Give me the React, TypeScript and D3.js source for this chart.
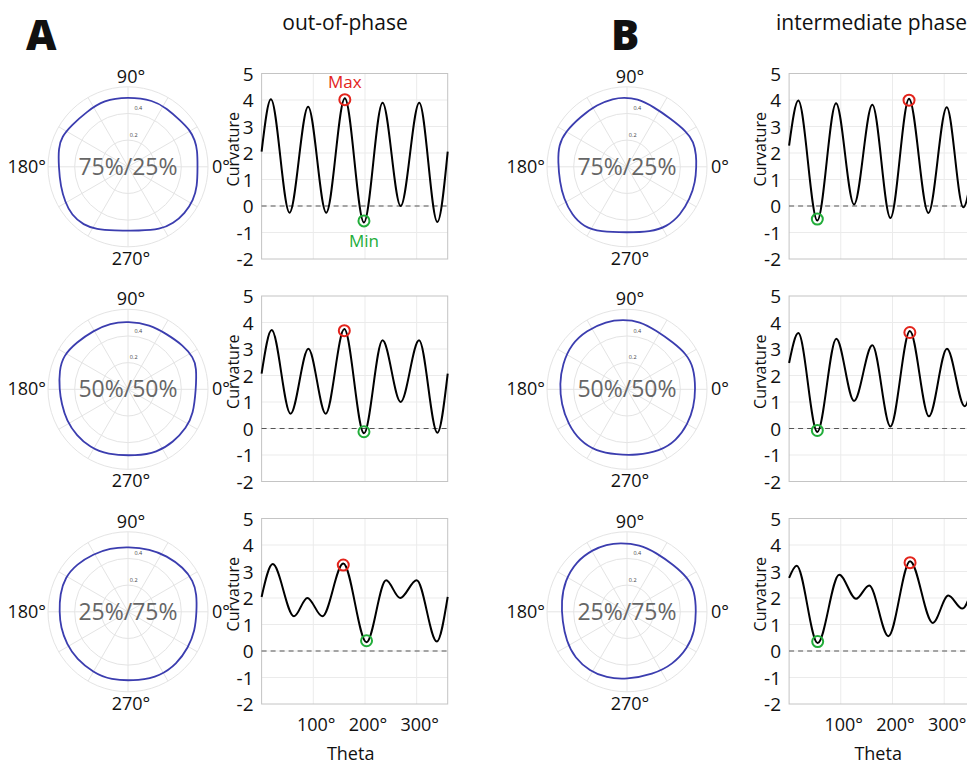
import React, { useEffect, useRef } from "react";
import * as d3 from "d3";

const WIDTH = 967;
const HEIGHT = 765;

const panelLetters = ["A", "B"];
const panelTitles = ["out-of-phase", "intermediate phase"];
const ratioLabels = ["75%/25%", "50%/50%", "25%/75%"];
const radialTicks = [0.2, 0.4];
const ringValues = [0.2, 0.4, 0.6];
const spokeAngles = [0, 30, 60, 90, 120, 150, 180, 210, 240, 270, 300, 330];
const curvTicks = [-2, -1, 0, 1, 2, 3, 4, 5];
const thetaTicks = [100, 200, 300];

// polar contours: [angle in degrees, radius]
const polarA1 = [[0, 0.522], [13.5, 0.535], [21.7, 0.54], [30.6, 0.54], [41.9, 0.524], [56.5, 0.525], [69, 0.535], [90, 0.525], [110, 0.533], [127, 0.516], [143.5, 0.526], [155.7, 0.546], [165, 0.54], [180, 0.52], [196.5, 0.527], [209, 0.54], [220.6, 0.557], [232.6, 0.55], [243.4, 0.525], [257, 0.49], [280.6, 0.488], [297, 0.528], [308.7, 0.544], [320.7, 0.552], [333, 0.55], [344, 0.54]];
const polarA2 = [[0, 0.51], [17.8, 0.54], [26, 0.545], [38.3, 0.53], [55, 0.506], [71.2, 0.512], [90, 0.51], [105, 0.513], [120.6, 0.511], [137.5, 0.522], [152.5, 0.547], [164.8, 0.534], [180, 0.515], [192.5, 0.51], [207, 0.517], [222, 0.519], [236.8, 0.52], [251.9, 0.515], [277.4, 0.504], [294.5, 0.52], [310.5, 0.523], [327, 0.524], [339, 0.524]];
const polarA3 = [[0, 0.515], [14.4, 0.532], [25.4, 0.542], [38.7, 0.532], [55.4, 0.51], [70.6, 0.499], [90, 0.488], [105.8, 0.496], [121, 0.505], [137, 0.525], [151.4, 0.538], [165.4, 0.527], [180, 0.515], [193, 0.518], [207.8, 0.52], [222.7, 0.524], [240.3, 0.524], [255, 0.53], [279.9, 0.525], [296.6, 0.537], [312.9, 0.536], [329.4, 0.526], [344, 0.522]];
const polarB1 = [[0, 0.52], [9.6, 0.527], [20.6, 0.534], [30.3, 0.52], [48, 0.487], [66, 0.4925], [81.7, 0.518], [92.8, 0.52], [101, 0.522], [115.7, 0.519], [133, 0.513], [150.4, 0.532], [162.4, 0.538], [175.9, 0.519], [192.6, 0.517], [206.6, 0.531], [221.3, 0.549], [234.2, 0.555], [247.7, 0.527], [270, 0.4925], [289.7, 0.518], [303.7, 0.54], [317.8, 0.54], [333.4, 0.53], [347.6, 0.525]];
const polarB2 = [[0, 0.515], [18.3, 0.527], [30.8, 0.518], [45.6, 0.493], [63.4, 0.492], [79.4, 0.519], [93.3, 0.523], [106.9, 0.533], [124.7, 0.535], [140.8, 0.538], [158.6, 0.52], [175.5, 0.507], [192.6, 0.505], [210.4, 0.513], [227.3, 0.524], [243.7, 0.519], [260.7, 0.4965], [278, 0.5], [297.8, 0.525], [313.9, 0.534], [330.4, 0.526], [345, 0.518]];
const polarB3 = [[0.5, 0.52], [17, 0.53], [29, 0.524], [45.8, 0.495], [63.6, 0.494], [79.3, 0.514], [96, 0.52], [107, 0.528], [118.6, 0.532], [135, 0.537], [153.8, 0.521], [170.8, 0.499], [188.2, 0.49], [205.8, 0.505], [221.3, 0.5225], [237.8, 0.525], [252.6, 0.519], [269.4, 0.5075], [292.5, 0.509], [311, 0.524], [329.4, 0.531], [344, 0.528]];

// curvature extrema: [theta in degrees, curvature]
const curvA1 = [[0, 2.05], [18, 4.03], [54, -0.25], [90, 3.75], [125, -0.25], [161, 4.07], [198, -0.62], [234, 3.9], [269, 0.0], [305, 3.9], [340, -0.6], [360, 2.05]];
const curvA2 = [[0, 2.07], [19.5, 3.72], [56, 0.56], [90.5, 3.01], [124, 0.56], [160, 3.75], [198, -0.18], [234, 3.33], [269, 1.0], [304.6, 3.33], [340, -0.16], [360, 2.07]];
const curvA3 = [[0, 2.04], [21.5, 3.28], [62.7, 1.31], [88.5, 2.0], [117.5, 1.31], [158, 3.3], [203, 0.33], [240.8, 2.67], [268, 2.0], [300, 2.67], [339, 0.36], [360, 2.04]];
const curvB1 = [[0, 2.28], [17.8, 3.98], [54.6, -0.55], [90.8, 3.88], [125.6, 0.06], [161, 3.82], [196, -0.45], [232, 4.05], [269.5, -0.26], [305, 3.73], [337, -0.05], [360, 2.28]];
const curvB2 = [[0, 2.47], [17.8, 3.6], [54.6, -0.13], [91.4, 3.39], [125.6, 1.04], [161, 3.14], [196, 0.08], [233.6, 3.68], [270.6, 0.46], [305.4, 3.01], [339.6, 0.84], [360, 2.47]];
const curvB3 = [[0, 2.76], [14.6, 3.22], [55.3, 0.3], [97, 2.88], [129.5, 1.97], [155, 2.47], [192, 0.56], [234, 3.39], [278, 1.06], [308, 2.09], [335, 1.6], [360, 2.76]];

const polarData = [[polarA1, polarA2, polarA3], [polarB1, polarB2, polarB3]];
const curvData = [[curvA1, curvA2, curvA3], [curvB1, curvB2, curvB3]];

const FONT = "'Open Sans', 'Noto Sans', sans-serif";
const POLAR_CX = [128, 627];
const CURVE_X0 = [261.6, 789.1];
const CURVE_W = 186.1;
const ROW_TOP = [73.5, 296, 518.5];
const CURVE_H = 185.5;
const POLAR_R = 80;
const BLUE = "#3b3daf";
const RED = "#e3241c";
const GREEN = "#22ad3a";

export default function App() {
  const ref = useRef(null);

  useEffect(() => {
    const svg = d3.select(ref.current);
    svg.selectAll("*").remove();
    svg.attr("font-family", FONT);

    const rScale = d3.scaleLinear().domain([0, 0.6]).range([0, POLAR_R]);
    const rad = (deg) => (deg * Math.PI) / 180;

    panelLetters.forEach((letter, p) => {
      svg.append("text")
        .text(letter)
        .attr("x", p === 0 ? 26 : 611)
        .attr("y", 50)
        .attr("font-weight", 800)
        .attr("font-size", 42)
        .attr("fill", "#111");

      svg.append("text")
        .text(panelTitles[p])
        .attr("x", p === 0 ? 345 : 776)
        .attr("y", 30)
        .attr("text-anchor", p === 0 ? "middle" : "start")
        .attr("font-size", 21)
        .attr("fill", "#111");

      for (let row = 0; row < 3; row++) {
        const cx = POLAR_CX[p];
        const cy = ROW_TOP[row] + 93.3;
        const g = svg.append("g").attr("transform", "translate(" + cx + "," + cy + ")");

        g.selectAll("circle.ring")
          .data(ringValues)
          .enter()
          .append("circle")
          .attr("r", d => rScale(d))
          .attr("fill", "none")
          .attr("stroke", "#e4e4e4")
          .attr("stroke-width", 1);

        g.selectAll("line.spoke")
          .data(spokeAngles)
          .enter()
          .append("line")
          .attr("x2", d => POLAR_R * Math.cos(rad(d)))
          .attr("y2", d => -POLAR_R * Math.sin(rad(d)))
          .attr("stroke", "#e4e4e4")
          .attr("stroke-width", 1);

        g.selectAll("text.rtick")
          .data(radialTicks)
          .enter()
          .append("text")
          .text(d => d)
          .attr("x", d => (rScale(d) + 6) * Math.cos(rad(80)))
          .attr("y", d => -(rScale(d) + 6) * Math.sin(rad(80)) + 2)
          .attr("text-anchor", "middle")
          .attr("font-size", 5.5)
          .attr("fill", "#444");

        g.append("text")
          .text(ratioLabels[row])
          .attr("x", 0)
          .attr("y", 8)
          .attr("text-anchor", "middle")
          .attr("font-size", 23)
          .attr("fill", "#666");

        const radial = d3.lineRadial()
          .angle(d => rad(90 - d[0]))
          .radius(d => rScale(d[1]))
          .curve(d3.curveBasisClosed);

        g.append("path")
          .attr("d", radial(polarData[p][row]))
          .attr("fill", "none")
          .attr("stroke", BLUE)
          .attr("stroke-width", 1.8);

        const lab = (t, x, y, anchor) => g.append("text")
          .text(t)
          .attr("x", x)
          .attr("y", y)
          .attr("text-anchor", anchor)
          .attr("font-size", 18)
          .attr("fill", "#111");
        lab("90°", 3, -84, "middle");
        lab("270°", 3, 98, "middle");
        lab("180°", -82, 6, "end");
        lab("0°", 84, 6, "start");

        // curvature plot
        const x0 = CURVE_X0[p];
        const top = ROW_TOP[row];
        const x = d3.scaleLinear().domain([0, 360]).range([x0, x0 + CURVE_W]);
        const y = d3.scaleLinear().domain([-2, 5]).range([top + CURVE_H, top]);
        const c = svg.append("g");

        c.selectAll("line.vgrid")
          .data(thetaTicks)
          .enter()
          .append("line")
          .attr("x1", d => x(d))
          .attr("x2", d => x(d))
          .attr("y1", top)
          .attr("y2", top + CURVE_H)
          .attr("stroke", "#ebebeb");

        c.selectAll("line.hgrid")
          .data(curvTicks.slice(1, -1))
          .enter()
          .append("line")
          .attr("x1", x0)
          .attr("x2", x0 + CURVE_W)
          .attr("y1", d => y(d))
          .attr("y2", d => y(d))
          .attr("stroke", "#ebebeb");

        c.append("rect")
          .attr("x", x0)
          .attr("y", top)
          .attr("width", CURVE_W)
          .attr("height", CURVE_H)
          .attr("fill", "none")
          .attr("stroke", "#c4c4c4");

        c.append("line")
          .attr("x1", x0)
          .attr("x2", x0 + CURVE_W)
          .attr("y1", y(0))
          .attr("y2", y(0))
          .attr("stroke", "#555")
          .attr("stroke-width", 1.2)
          .attr("stroke-dasharray", "5,4");

        c.selectAll("text.ytick")
          .data(curvTicks)
          .enter()
          .append("text")
          .text(d => String(d))
          .attr("x", x0 - 8)
          .attr("y", d => y(d) + 7)
          .attr("text-anchor", "end")
          .attr("font-size", 19)
          .attr("fill", "#111");

        c.append("text")
          .text("Curvature")
          .attr("transform", "translate(" + (x0 - 23) + "," + (top + CURVE_H / 2 - 17) + ") rotate(-90)")
          .attr("text-anchor", "middle")
          .attr("font-size", 16)
          .attr("fill", "#111");

        const series = curvData[p][row];
        const line = d3.line()
          .x(d => x(d[0]))
          .y(d => y(d[1]))
          .curve(d3.curveMonotoneX);

        c.append("path")
          .attr("d", line(series))
          .attr("fill", "none")
          .attr("stroke", "#000")
          .attr("stroke-width", 2);

        const maxPt = series[d3.maxIndex(series, d => d[1])];
        const minPt = series[d3.minIndex(series, d => d[1])];

        c.append("circle")
          .attr("cx", x(maxPt[0]))
          .attr("cy", y(maxPt[1]) + 1.5)
          .attr("r", 5.5)
          .attr("fill", "none")
          .attr("stroke", RED)
          .attr("stroke-width", 2);
        c.append("circle")
          .attr("cx", x(minPt[0]))
          .attr("cy", y(minPt[1]) - 1.5)
          .attr("r", 5.5)
          .attr("fill", "none")
          .attr("stroke", GREEN)
          .attr("stroke-width", 2);

        if (p === 0 && row === 0) {
          c.append("text")
            .text("Max")
            .attr("x", x(maxPt[0]))
            .attr("y", y(maxPt[1]) - 10)
            .attr("text-anchor", "middle")
            .attr("font-size", 17)
            .attr("fill", RED);
          c.append("text")
            .text("Min")
            .attr("x", x(minPt[0]))
            .attr("y", y(minPt[1]) + 25)
            .attr("text-anchor", "middle")
            .attr("font-size", 17)
            .attr("fill", GREEN);
        }

        if (row === 2) {
          c.selectAll("text.xtick")
            .data(thetaTicks)
            .enter()
            .append("text")
            .text(d => d + "°")
            .attr("x", d => x(d) + 3)
            .attr("y", top + CURVE_H + 27)
            .attr("text-anchor", "middle")
            .attr("font-size", 18)
            .attr("fill", "#111");
          c.append("text")
            .text("Theta")
            .attr("x", x0 + CURVE_W / 2 - 4)
            .attr("y", top + CURVE_H + 56)
            .attr("text-anchor", "middle")
            .attr("font-size", 18)
            .attr("fill", "#111");
        }
      }
    });
  }, []);

  return (
    <svg
      ref={ref}
      width={WIDTH}
      height={HEIGHT}
      style={{ position: "absolute", left: 0, top: 0, background: "#fff" }}
    />
  );
}
